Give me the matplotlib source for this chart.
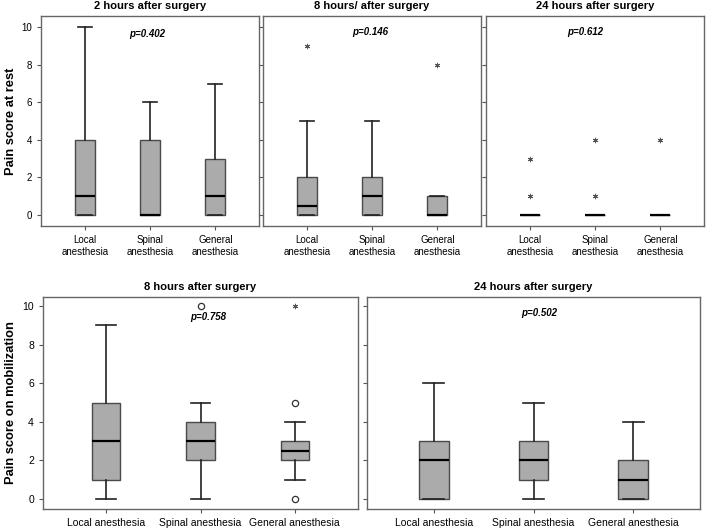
import matplotlib
matplotlib.use("Agg")
import matplotlib.pyplot as plt

plt.rcParams['font.family'] = ['Liberation Sans', 'DejaVu Sans']

groups_top = ["Local\nanesthesia", "Spinal\nanesthesia", "General\nanesthesia"]
groups_bottom = ["Local anesthesia", "Spinal anesthesia", "General anesthesia"]

# Each: (whislo, q1, med, q3, whishi)
rest_2h = [(0, 0, 1, 4, 10), (0, 0, 0, 4, 6), (0, 0, 1, 3, 7)]
rest_2h_star = [[], [], []]
rest_2h_circ = [[], [], []]

rest_8h = [(0, 0, 0.5, 2, 5), (0, 0, 1, 2, 5), (0, 0, 0, 1, 1)]
rest_8h_star = [[9], [], [8]]
rest_8h_circ = [[], [], []]

rest_24h = [(0, 0, 0, 0, 0), (0, 0, 0, 0, 0), (0, 0, 0, 0, 0)]
rest_24h_star = [[1, 3], [1, 4], [4]]
rest_24h_circ = [[], [], []]

mob_8h = [(0, 1, 3, 5, 9), (0, 2, 3, 4, 5), (1, 2, 2.5, 3, 4)]
mob_8h_star = [[], [], [10]]
mob_8h_circ = [[], [10], [5, 0]]

mob_24h = [(0, 0, 2, 3, 6), (0, 1, 2, 3, 5), (0, 0, 1, 2, 4)]
mob_24h_star = [[], [], []]
mob_24h_circ = [[], [], []]

titles_top = ["2 hours after surgery", "8 hours/ after surgery", "24 hours after surgery"]
titles_bottom = ["8 hours after surgery", "24 hours after surgery"]
pvals_top = ["p=0.402", "p=0.146", "p=0.612"]
pvals_bottom = ["p=0.758", "p=0.502"]
yticks = [0, 2, 4, 6, 8, 10]

fig = plt.figure(figsize=(7.06, 5.30), dpi=100)
W, H = 706, 530

def ax_px(x0, y0, x1, y1):
    return fig.add_axes([x0 / W, 1 - y1 / H, (x1 - x0) / W, (y1 - y0) / H])

FILL = "#ababab"
EDGE = "#4a4a4a"

def draw(ax, data, stars, circs, labels, title, pval, pxy, ylim, fs_tick, fs_title, yl=True):
    stats = []
    for (lo, q1, med, q3, hi), lab in zip(data, labels):
        stats.append(dict(whislo=lo, q1=q1, med=med, q3=q3, whishi=hi, fliers=[], label=lab))
    ax.bxp(stats, positions=[1, 2, 3], widths=0.3, patch_artist=True, showfliers=False,
           capwidths=0.21,
           boxprops=dict(facecolor=FILL, edgecolor=EDGE, linewidth=1.0),
           medianprops=dict(color="black", linewidth=1.6),
           whiskerprops=dict(color="#222222", linewidth=1.2),
           capprops=dict(color="#222222", linewidth=1.2))
    for i, (s, c) in enumerate(zip(stars, circs)):
        if s:
            ax.plot([i + 1] * len(s), s, linestyle="none", marker=(6, 2, 0), markersize=3.8,
                    color="#555555", markeredgewidth=0.7)
        if c:
            ax.plot([i + 1] * len(c), c, linestyle="none", marker="o", markersize=4.5,
                    markerfacecolor="white", markeredgecolor="#333333", markeredgewidth=0.9)
    ax.set_xlim(0.33, 3.67)
    ax.set_ylim(*ylim)
    ax.set_yticks(yticks)
    if not yl:
        ax.set_yticklabels([])
    ax.tick_params(axis="both", labelsize=fs_tick, length=3, width=0.8, color="#555555")
    for sp in ax.spines.values():
        sp.set_color("#666666")
        sp.set_linewidth(1.0)
    ax.set_title(title, fontsize=fs_title, fontweight="bold", pad=5)
    ax.text(pxy[0], pxy[1], pval, fontsize=7, fontstyle="italic", fontweight="bold",
            ha="center", va="center")

top_boxes = [(41, 16, 259, 226), (263, 16, 481, 226), (486, 16, 704, 226)]
top_data = [(rest_2h, rest_2h_star, rest_2h_circ), (rest_8h, rest_8h_star, rest_8h_circ),
            (rest_24h, rest_24h_star, rest_24h_circ)]
top_pxy = [(1.95, 9.65), (1.97, 9.75), (1.85, 9.75)]
for k in range(3):
    ax = ax_px(*top_boxes[k])
    d, s, c = top_data[k]
    draw(ax, d, s, c, groups_top, titles_top[k], pvals_top[k], top_pxy[k],
         (-0.59, 10.6), 7, 8, yl=(k == 0))
    if k == 0:
        ax.set_ylabel("Pain score at rest", fontsize=9.3, fontweight="bold")
        ax.yaxis.set_label_coords(-0.112, 0.5)

bot_boxes = [(43, 297, 358, 509), (367, 297, 700, 509)]
bot_data = [(mob_8h, mob_8h_star, mob_8h_circ), (mob_24h, mob_24h_star, mob_24h_circ)]
bot_pxy = [(2.08, 9.43), (2.06, 9.64)]
for k in range(2):
    ax = ax_px(*bot_boxes[k])
    d, s, c = bot_data[k]
    draw(ax, d, s, c, groups_bottom, titles_bottom[k], pvals_bottom[k], bot_pxy[k],
         (-0.52, 10.47), 7.5, 8, yl=(k == 0))
    if k == 0:
        ax.set_ylabel("Pain score on mobilization", fontsize=9.3, fontweight="bold")
        ax.yaxis.set_label_coords(-0.083, 0.5)

fig.savefig("out.png", dpi=100)
